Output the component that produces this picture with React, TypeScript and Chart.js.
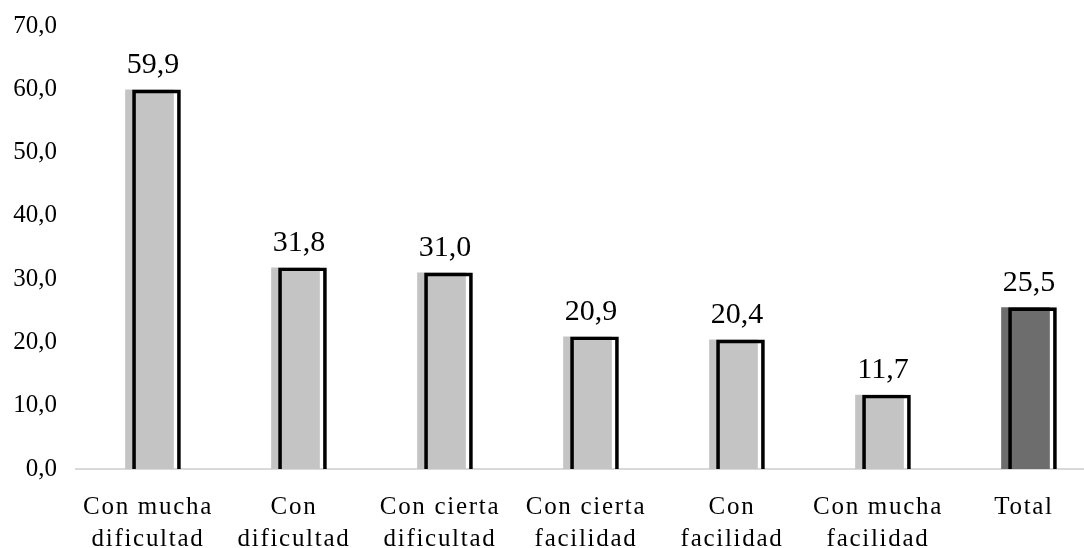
import React, { useEffect, useRef } from "react";
import { Chart, registerables } from "chart.js";

Chart.register(...registerables);

const categories: string[][] = [
  ["Con mucha", "dificultad"],
  ["Con", "dificultad"],
  ["Con cierta", "dificultad"],
  ["Con cierta", "facilidad"],
  ["Con", "facilidad"],
  ["Con mucha", "facilidad"],
  ["Total"],
];
const values: number[] = [59.9, 31.8, 31.0, 20.9, 20.4, 11.7, 25.5];
const barColors: string[] = ["#c4c4c4", "#c4c4c4", "#c4c4c4", "#c4c4c4", "#c4c4c4", "#c4c4c4", "#6d6d6d"];
const yTicks: number[] = [0, 10, 20, 30, 40, 50, 60, 70];

const FONT = '"Liberation Serif", "Times New Roman", serif';
const fmt = (v: number) => v.toFixed(1).replace(".", ",");

// scale window (category index units); the outline axis is shifted a few pixels right
const X_MIN = -0.5034;
const X_MAX = 6.4007;
const SHADOW_SHIFT = 7 / 146;

const spacingPlugin = {
  id: "spacing",
  beforeDraw(chart: any) {
    (chart.ctx as any).letterSpacing = "1.7px";
  },
  beforeDatasetsDraw(chart: any) {
    (chart.ctx as any).letterSpacing = "0px";
  },
};

const labelPlugin = {
  id: "valueLabels",
  afterDatasetsDraw(chart: any) {
    const ctx = chart.ctx;
    const m0 = chart.getDatasetMeta(0);
    const m1 = chart.getDatasetMeta(1);
    ctx.save();
    (ctx as any).letterSpacing = "0px";
    ctx.font = `30px ${FONT}`;
    ctx.fillStyle = "#000";
    ctx.textAlign = "center";
    ctx.textBaseline = "alphabetic";
    values.forEach((v, i) => {
      const a = m0.data[i];
      const b = m1.data[i];
      const x = (a.x + b.x) / 2;
      const y = Math.min(a.y, b.y) - 17;
      ctx.fillText(fmt(v), x, y);
    });
    ctx.restore();
  },
};

export default function App() {
  const ref = useRef<HTMLCanvasElement | null>(null);
  useEffect(() => {
    if (!ref.current) return;
    const chart = new Chart(ref.current, {
      type: "bar",
      data: {
        datasets: [
          {
            data: values.map((v, i) => ({ x: i, y: v })),
            backgroundColor: barColors,
            borderWidth: 0,
            grouped: false,
            barThickness: 48,
            order: 2,
            xAxisID: "x",
          },
          {
            data: values.map((v, i) => ({ x: i, y: v })),
            backgroundColor: "rgba(0,0,0,0)",
            borderColor: "#000",
            borderWidth: 3,
            grouped: false,
            barThickness: 48,
            order: 1,
            xAxisID: "x2",
          },
        ],
      } as any,
      options: {
        animation: false,
        responsive: false,
        layout: { padding: { top: 26, left: 0, right: 0, bottom: 0 } },
        plugins: { legend: { display: false }, tooltip: { enabled: false } },
        scales: {
          x: {
            type: "linear",
            position: "bottom",
            offset: false,
            min: X_MIN,
            max: X_MAX,
            grid: { display: false, drawTicks: false, offset: false },
            border: { display: true, color: "#d9d9d9", width: 2 },
            afterBuildTicks: (scale: any) => {
              scale.ticks = categories.map((_, i) => ({ value: i }));
            },
            afterFit: (scale: any) => {
              scale.height = 79;
              scale.paddingLeft = 0;
              scale.paddingRight = 0;
            },
            ticks: {
              autoSkip: false,
              maxRotation: 0,
              minRotation: 0,
              padding: 22,
              labelOffset: -1.5,
              color: "#000",
              font: { family: FONT, size: 25, lineHeight: 1.28 },
              callback: (v: any) => categories[Math.round(Number(v))],
            },
          },
          x2: {
            type: "linear",
            position: "bottom",
            display: false,
            offset: false,
            min: X_MIN - SHADOW_SHIFT,
            max: X_MAX - SHADOW_SHIFT,
            grid: { display: false, offset: false },
          },
          y: {
            type: "linear",
            min: 0,
            max: 70,
            grid: { display: false, drawTicks: false },
            border: { display: false },
            afterBuildTicks: (scale: any) => {
              scale.ticks = yTicks.map((v) => ({ value: v }));
            },
            afterFit: (scale: any) => {
              scale.width = 76;
              scale.paddingTop = 0;
              scale.paddingBottom = 0;
            },
            ticks: {
              z: 1,
              padding: 19,
              color: "#000",
              font: { family: FONT, size: 25 },
              callback: (v: any) => fmt(Number(v)),
            },
          },
        },
      } as any,
      plugins: [spacingPlugin, labelPlugin],
    });
    return () => chart.destroy();
  }, []);
  return (
    <div style={{ position: "absolute", left: 0, top: 0, width: 1084, height: 548, background: "#fff" }}>
      <canvas ref={ref} width={1084} height={548} style={{ display: "block" }} />
    </div>
  );
}
